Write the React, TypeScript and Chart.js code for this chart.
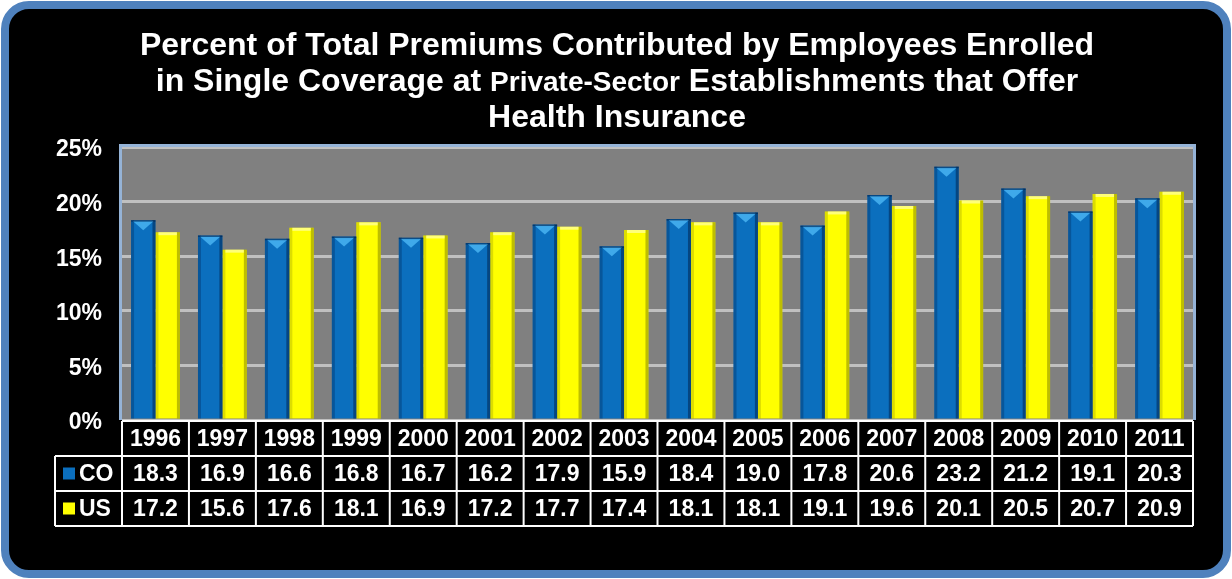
import React, { useEffect, useRef } from "react";
import { Chart, registerables } from "chart.js";
Chart.register(...registerables);

const years = ["1996", "1997", "1998", "1999", "2000", "2001", "2002", "2003", "2004", "2005", "2006", "2007", "2008", "2009", "2010", "2011"];
const coValues = [18.3, 16.9, 16.6, 16.8, 16.7, 16.2, 17.9, 15.9, 18.4, 19.0, 17.8, 20.6, 23.2, 21.2, 19.1, 20.3];
const usValues = [17.2, 15.6, 17.6, 18.1, 16.9, 17.2, 17.7, 17.4, 18.1, 18.1, 19.1, 19.6, 20.1, 20.5, 20.7, 20.9];
const seriesNames = ["CO", "US"];
const yMin = 0;
const yMax = 25;
const yStep = 5;
const titleLine1 = "Percent of Total Premiums Contributed by Employees Enrolled";
const titleLine2 = ["in Single Coverage at ", "Private-Sector", " Establishments that Offer"];
const titleLine3 = "Health Insurance";

const FONT = '"Liberation Sans", Arial, sans-serif';
const W = 1232;
const H = 579;

const BLUE = "#0B6FBE";
const YELLOW = "#FFFF00";

const framePlugin = {
  id: "frame",
  beforeDraw(chart: any) {
    const ctx = chart.ctx;
    const { left, top, right, bottom } = chart.chartArea;
    ctx.save();
    ctx.fillStyle = "#ffffff";
    ctx.fillRect(0, 0, W, H);
    ctx.beginPath();
    (ctx as any).roundRect(5, 5, W - 10, H - 10, 24);
    ctx.fillStyle = "#000000";
    ctx.fill();
    ctx.lineWidth = 8;
    ctx.strokeStyle = "#4F81BD";
    ctx.stroke();
    ctx.fillStyle = "#808080";
    ctx.fillRect(left, top, right - left, bottom - top);
    ctx.restore();
  },
  beforeDatasetsDraw(chart: any) {
    const ctx = chart.ctx;
    const { left, top, right, bottom } = chart.chartArea;
    ctx.save();
    ctx.strokeStyle = "#95B3D7";
    ctx.lineWidth = 3;
    ctx.beginPath();
    ctx.moveTo(left - 1.5, bottom);
    ctx.lineTo(left - 1.5, top - 1.5);
    ctx.lineTo(right + 1.5, top - 1.5);
    ctx.lineTo(right + 1.5, bottom);
    ctx.stroke();
    ctx.restore();
  },
  afterDatasetsDraw(chart: any) {
    const ctx = chart.ctx;
    ctx.save();
    chart.data.datasets.forEach((ds: any, di: number) => {
      const meta = chart.getDatasetMeta(di);
      meta.data.forEach((bar: any) => {
        const { x, y, base, width } = bar.getProps(["x", "y", "base", "width"], true);
        const l = x - width / 2;
        const r = x + width / 2;
        const h = base - y;
        if (di === 0) {
          ctx.fillStyle = "rgba(0,40,90,0.35)";
          ctx.fillRect(l, y, 3, h);
          ctx.fillStyle = "rgba(0,30,70,0.5)";
          ctx.fillRect(r - 3, y, 3, h);
          ctx.fillStyle = "#3FA9EA";
          ctx.beginPath();
          ctx.moveTo(l + 2, y + 1);
          ctx.lineTo(r - 2, y + 1);
          ctx.lineTo(x, y + 10);
          ctx.closePath();
          ctx.fill();
          ctx.fillStyle = "rgba(0,30,70,0.5)";
          ctx.fillRect(l, y, width, 1.5);
        } else {
          ctx.fillStyle = "rgba(120,120,0,0.25)";
          ctx.fillRect(l, y, 3, h);
          ctx.fillStyle = "rgba(110,110,0,0.45)";
          ctx.fillRect(r - 3, y, 3, h);
          ctx.fillStyle = "rgba(255,255,200,0.6)";
          ctx.fillRect(l + 3, y, width - 6, 3);
        }
      });
    });
    ctx.restore();
  },
  afterDraw(chart: any) {
    const ctx = chart.ctx;
    const { left, right, bottom } = chart.chartArea;
    const xs = chart.scales.x;
    const n = years.length;
    const cw = (right - left) / n;
    ctx.save();
    // Title
    ctx.fillStyle = "#ffffff";
    ctx.textBaseline = "alphabetic";
    const cx = 617;
    const big = `bold 32px ${FONT}`;
    const small = `bold 28px ${FONT}`;
    ctx.textAlign = "center";
    ctx.font = big;
    ctx.fillText(titleLine1, cx, 55);
    ctx.fillText(titleLine3, cx, 127);
    const widths = titleLine2.map((s, i) => {
      ctx.font = i === 1 ? small : big;
      return ctx.measureText(s).width;
    });
    const total = widths.reduce((a, b) => a + b, 0);
    let px = cx - total / 2;
    ctx.textAlign = "left";
    titleLine2.forEach((s, i) => {
      ctx.font = i === 1 ? small : big;
      ctx.fillText(s, px, 91);
      px += widths[i];
    });

    // Data table
    const r0 = bottom + 1;
    const rh = 35;
    const legendLeft = 55;
    ctx.strokeStyle = "#ffffff";
    ctx.lineWidth = 2;
    ctx.beginPath();
    ctx.moveTo(left, r0);
    ctx.lineTo(right, r0);
    for (let k = 1; k <= 3; k++) {
      ctx.moveTo(legendLeft, r0 + k * rh);
      ctx.lineTo(right, r0 + k * rh);
    }
    for (let i = 0; i <= n; i++) {
      const vx = left + i * cw;
      ctx.moveTo(vx, r0);
      ctx.lineTo(vx, r0 + 3 * rh);
    }
    ctx.moveTo(legendLeft, r0 + rh);
    ctx.lineTo(legendLeft, r0 + 3 * rh);
    ctx.stroke();

    ctx.fillStyle = "#ffffff";
    ctx.font = `bold 23px ${FONT}`;
    ctx.textAlign = "center";
    ctx.textBaseline = "middle";
    const rows = [years, coValues.map((v) => v.toFixed(1)), usValues.map((v) => v.toFixed(1))];
    rows.forEach((row, ri) => {
      row.forEach((t, i) => {
        const tx = xs.getPixelForValue(i);
        ctx.fillText(String(t), tx, r0 + ri * rh + rh / 2 + 1);
      });
    });
    const colors = [BLUE, YELLOW];
    seriesNames.forEach((name, si) => {
      const cy = r0 + (si + 1) * rh + rh / 2;
      ctx.fillStyle = colors[si];
      ctx.fillRect(63, cy - 6, 12, 12);
      ctx.fillStyle = "#ffffff";
      ctx.textAlign = "left";
      ctx.fillText(name, 79, cy + 1);
    });
    ctx.restore();
  },
};

export default function App() {
  const ref = useRef<HTMLCanvasElement | null>(null);
  useEffect(() => {
    document.body.style.margin = "0";
    const canvas = ref.current;
    if (!canvas) return;
    const chart = new Chart(canvas, {
      type: "bar",
      data: {
        labels: years,
        datasets: [
          { label: seriesNames[0], data: coValues, backgroundColor: BLUE, borderWidth: 0 },
          { label: seriesNames[1], data: usValues, backgroundColor: YELLOW, borderWidth: 0 },
        ],
      },
      options: {
        responsive: false,
        animation: false,
        maintainAspectRatio: false,
        layout: { padding: { left: 0, right: 39, top: 147, bottom: 159 } },
        datasets: { bar: { categoryPercentage: 0.73, barPercentage: 1 } },
        plugins: { legend: { display: false }, title: { display: false }, tooltip: { enabled: false } },
        scales: {
          x: { display: false },
          y: {
            min: yMin,
            max: yMax,
            border: { display: false },
            grid: { color: "#C0C0C0", lineWidth: 3, drawTicks: false },
            ticks: {
              stepSize: yStep,
              padding: 20,
              labelOffset: 3,
              color: "#ffffff",
              font: { family: FONT, size: 23, weight: "bold" },
              callback: (v: any) => v + "%",
            },
            afterFit: (scale: any) => {
              scale.width = 122;
            },
          },
        },
      },
      plugins: [framePlugin],
    });
    return () => chart.destroy();
  }, []);
  return (
    <div style={{ position: "fixed", left: 0, top: 0, width: W, height: H }}>
      <canvas ref={ref} width={W} height={H} style={{ display: "block" }} />
    </div>
  );
}
